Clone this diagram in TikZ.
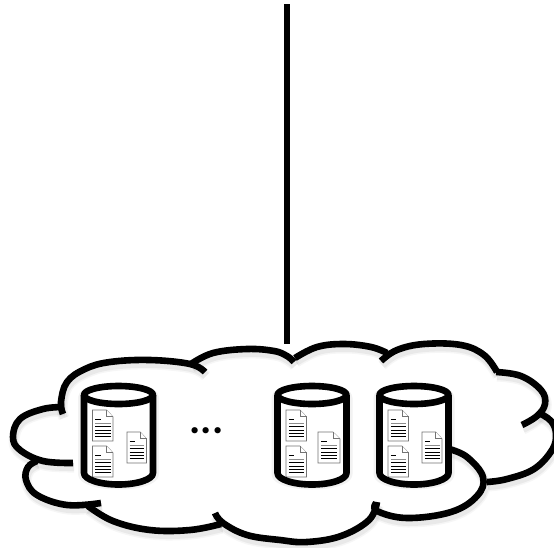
\documentclass[tikz,border=0pt]{standalone}
\usepackage{fontspec}
\setmainfont{Carlito}
\tikzset{
  outline/.style={line width=6.6pt,black,line cap=butt,line join=round},
  linkline/.style={line width=5.6pt,black,line cap=butt},
  softshadow/.style={gray,line cap=butt,line join=round},
  docsheet/.style={draw=black!55,line width=0.7pt,fill=white,line join=miter},
  docline/.style={black,line width=1pt},
  docgrey/.style={black!45,line width=1.2pt}
}
\newcommand{\lobes}[1]{%
  \draw[#1] plot[smooth,tension=.65] coordinates {(63,414) (61,402) (67,382) (85,369) (110,362) (150,360) (190,364) (205,372)};
  \draw[#1] plot[smooth,tension=.65] coordinates {(191,364) (213,353) (247,349) (274,351) (287,356) (294,362)};
  \draw[#1] plot[smooth,tension=.65] coordinates {(295,358) (317,347) (344,344) (371,347) (387,353)};
  \draw[#1] plot[smooth,tension=.65] coordinates {(381,361) (397,350) (424,344) (461,345) (484,355) (497,372)};
  \draw[#1] plot[smooth,tension=.65] coordinates {(496,372) (521,376) (541,390) (545,404) (537,416) (522,425)};
  \draw[#1] plot[smooth,tension=.65] coordinates {(539,413) (551,421) (556,434) (552,450) (534,469) (507,479) (487,482)};
  \draw[#1] plot[smooth,tension=.65] coordinates {(449,449) (467,457) (483,477) (477,496) (451,512) (407,518) (377,511) (376,503)};
  \draw[#1] plot[smooth,tension=.65] coordinates {(377,502) (369,520) (341,536) (307,542) (280,540) (247,535) (223,523) (215,513)};
  \draw[#1] plot[smooth,tension=.65] coordinates {(221,524) (190,530) (150,530) (113,521) (88,506)};
  \draw[#1] plot[smooth,tension=.65] coordinates {(101,503) (67,505) (37,495) (26,480) (28,467) (37,461)};
  \draw[#1] plot[smooth,tension=.65] coordinates {(73,463) (43,461) (20,450) (13,437) (20,419) (43,409) (64,407)};
}
% \docsheet{x-left}{y-top}{width}{height}
\newcommand{\docsheet}[4]{%
  \begin{scope}[shift={(#1,#2)},x=#3pt,y=-#4pt]
    \draw[docsheet] (0,0) -- (.68,0) -- (1,.22) -- (1,1) -- (0,1) -- cycle;
    \draw[docsheet] (.68,0) -- (.68,.22) -- (1,.22);
    \draw[docline] (.14,.31) -- (.4,.31);
    \draw[docgrey] (.14,.43) -- (.88,.43);
    \draw[docline] (.14,.54) -- (.88,.54);
    \draw[docline] (.14,.65) -- (.88,.65);
    \draw[docline] (.14,.76) -- (.88,.76);
    \draw[docline] (.14,.87) -- (.88,.87);
  \end{scope}}
\newcommand{\drumshadow}[1]{%
  \begin{scope}[shift={(#1,0)}]
    \draw[softshadow,line width=9pt,opacity=.10] (-36,398) arc (180:360:36 and 11) -- (36,474) arc (0:180:36 and 11) -- cycle;
  \end{scope}}
% \drum{centre x}{third-doc left}{third-doc width}
\newcommand{\drum}[3]{%
  \begin{scope}[shift={(#1,0)}]
    \fill[white] (-34.5,395) arc (180:360:34.5 and 9) -- (34.5,473) arc (0:180:34.5 and 11.5) -- cycle;
    \docsheet{-26}{410}{20.5}{31}
    \docsheet{-26}{446}{20.5}{31}
    \docsheet{#2}{432}{#3}{31}
    \draw[outline] (0,395) ellipse [x radius=34.5,y radius=9];
    \draw[outline] (-34.5,395) -- (-34.5,473) arc (180:0:34.5 and 11.5) -- (34.5,395);
  \end{scope}}
\begin{document}
\begin{tikzpicture}[x=1pt,y=-1pt]
  \useasboundingbox (0,0) rectangle (554,547);
  \clip (0,0) rectangle (554,547);
  \fill[white] (0,0) rectangle (554,547);
  \coordinate (linktop) at (287,4);
  \coordinate (linkend) at (287,344);
  \begin{scope}[shift={(1,4)}]
    \lobes{softshadow,line width=11pt,opacity=.07}
    \lobes{softshadow,line width=8pt,opacity=.10}
  \end{scope}
  \drumshadow{118.5}
  \drumshadow{312}
  \drumshadow{414}
  \lobes{outline}
  \draw[linkline] (linktop) -- (linkend);
  \drum{118.5}{8.5}{19.5}
  \drum{312}{6}{22}
  \drum{414}{8}{20}
  \node[inner sep=0pt,anchor=base,font=\bfseries\fontsize{42pt}{42pt}\selectfont] (dots) at (206.5,433) {...};
\end{tikzpicture}
\end{document}
